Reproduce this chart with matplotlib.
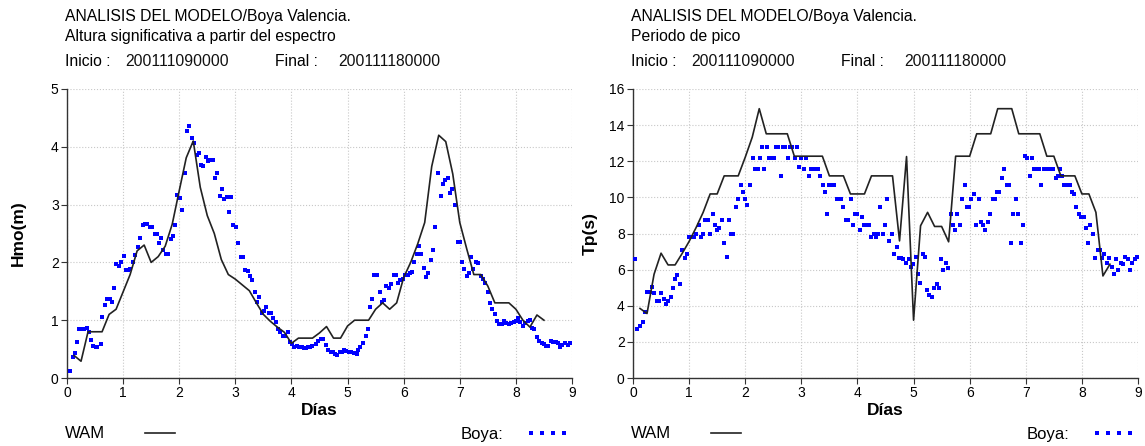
import numpy as np
import matplotlib
matplotlib.use('Agg')
import matplotlib.pyplot as plt
from matplotlib.lines import Line2D

plt.rcParams['font.family'] = ['Liberation Sans', 'DejaVu Sans']

W, H = 1145, 446

# ---- data ----
title_main = 'ANALISIS DEL MODELO/Boya Valencia.'
title_hs = 'Altura significativa a partir del espectro'
title_tp = 'Periodo de pico'
inicio = '200111090000'
final = '200111180000'

# WAM model, 3-hourly
wam_t = np.arange(1, 69) * 0.125
wam_hs = [0.39, 0.29, 0.80, 0.80, 0.80, 1.10, 1.19, 1.49, 1.79, 2.20, 2.30, 2.00,
          2.10, 2.28, 2.66, 3.24, 3.81, 4.10, 3.30, 2.81, 2.50, 2.05, 1.79, 1.71,
          1.61, 1.51, 1.30, 1.10, 0.98, 0.88, 0.79, 0.60, 0.69, 0.69, 0.69, 0.78,
          0.89, 0.69, 0.69, 0.90, 1.00, 1.00, 1.00, 1.19, 1.30, 1.19, 1.30, 1.74,
          2.00, 2.32, 2.69, 3.66, 4.20, 4.09, 3.53, 2.69, 2.23, 1.79, 1.79, 1.59,
          1.30, 1.30, 1.30, 1.19, 1.00, 0.88, 1.09, 1.00]
wam_tp = [3.85, 3.57, 5.74, 6.91, 6.26, 6.26, 6.89, 7.56, 8.33, 9.17, 10.19, 10.19,
          11.19, 11.19, 11.19, 12.22, 13.33, 14.91, 13.52, 13.52, 13.52, 13.52, 12.28, 12.28,
          12.28, 12.28, 12.28, 11.19, 11.19, 11.19, 10.19, 10.19, 10.19, 11.19, 11.19, 11.19,
          11.19, 7.59, 12.26, 3.20, 8.43, 9.17, 8.39, 8.39, 7.54, 12.28, 12.28, 12.28,
          13.52, 13.52, 13.52, 14.91, 14.91, 14.91, 13.52, 13.52, 13.52, 13.52, 12.28, 12.28,
          11.19, 11.19, 11.19, 10.19, 10.19, 9.17, 5.65, 6.30]

# buoy, roughly hourly
boya_hs_t = [0.05, 0.10, 0.14, 0.18, 0.21, 0.26, 0.30, 0.35, 0.39, 0.42, 0.46, 0.51,
             0.54, 0.60, 0.63, 0.68, 0.72, 0.76, 0.80, 0.84, 0.88, 0.92, 0.97, 1.01,
             1.05, 1.09, 1.13, 1.18, 1.22, 1.26, 1.30, 1.35, 1.39, 1.43, 1.48, 1.52,
             1.56, 1.60, 1.64, 1.68, 1.71, 1.76, 1.80, 1.85, 1.89, 1.92, 1.96, 2.01,
             2.05, 2.10, 2.13, 2.18, 2.22, 2.26, 2.31, 2.35, 2.39, 2.43, 2.47, 2.51,
             2.55, 2.60, 2.64, 2.68, 2.72, 2.76, 2.80, 2.85, 2.89, 2.93, 2.96, 3.01,
             3.05, 3.10, 3.14, 3.18, 3.22, 3.26, 3.30, 3.35, 3.39, 3.43, 3.47, 3.51,
             3.55, 3.60, 3.64, 3.68, 3.72, 3.76, 3.80, 3.85, 3.89, 3.93, 3.97, 4.01,
             4.05, 4.10, 4.14, 4.18, 4.22, 4.26, 4.30, 4.33, 4.37, 4.43, 4.47, 4.52,
             4.56, 4.61, 4.65, 4.70, 4.74, 4.78, 4.82, 4.86, 4.90, 4.94, 4.98, 5.02,
             5.07, 5.11, 5.16, 5.19, 5.23, 5.27, 5.32, 5.36, 5.40, 5.44, 5.48, 5.53,
             5.57, 5.61, 5.65, 5.69, 5.73, 5.78, 5.82, 5.86, 5.90, 5.94, 5.99, 6.03,
             6.07, 6.11, 6.15, 6.19, 6.24, 6.27, 6.31, 6.36, 6.40, 6.44, 6.48, 6.52,
             6.56, 6.61, 6.66, 6.70, 6.74, 6.79, 6.83, 6.87, 6.91, 6.96, 7.00, 7.04,
             7.08, 7.12, 7.16, 7.20, 7.24, 7.29, 7.33, 7.37, 7.41, 7.45, 7.50, 7.54,
             7.58, 7.62, 7.66, 7.70, 7.75, 7.79, 7.83, 7.87, 7.91, 7.96, 8.00, 8.04,
             8.08, 8.12, 8.16, 8.21, 8.25, 8.29, 8.33, 8.37, 8.41, 8.46, 8.50, 8.54,
             8.58, 8.62, 8.67, 8.71, 8.75, 8.79, 8.83, 8.87, 8.92, 8.96]
boya_hs = [0.12, 0.36, 0.43, 0.62, 0.84, 0.84, 0.84, 0.87, 0.80, 0.65, 0.55, 0.54,
           0.54, 0.58, 1.05, 1.27, 1.36, 1.37, 1.31, 1.56, 1.98, 1.94, 2.01, 2.11,
           1.87, 1.86, 1.89, 2.00, 2.12, 2.27, 2.42, 2.65, 2.67, 2.66, 2.62, 2.62,
           2.49, 2.50, 2.34, 2.43, 2.21, 2.14, 2.14, 2.41, 2.45, 2.65, 3.17, 3.11,
           2.91, 3.55, 4.27, 4.36, 4.16, 4.07, 3.86, 3.89, 3.68, 3.66, 3.83, 3.75,
           3.77, 3.78, 3.46, 3.55, 3.15, 3.27, 3.10, 3.13, 2.88, 3.13, 2.65, 2.62,
           2.33, 2.10, 2.10, 1.87, 1.85, 1.77, 1.69, 1.49, 1.32, 1.40, 1.13, 1.16,
           1.22, 1.13, 1.12, 1.03, 0.97, 0.85, 0.80, 0.72, 0.72, 0.79, 0.62, 0.58,
           0.54, 0.56, 0.54, 0.54, 0.52, 0.52, 0.54, 0.54, 0.56, 0.59, 0.64, 0.67,
           0.67, 0.57, 0.49, 0.45, 0.45, 0.42, 0.39, 0.45, 0.45, 0.49, 0.47, 0.45,
           0.45, 0.43, 0.42, 0.49, 0.54, 0.60, 0.72, 0.85, 1.23, 1.36, 1.78, 1.79,
           1.49, 1.32, 1.35, 1.60, 1.55, 1.62, 1.78, 1.78, 1.65, 1.70, 1.71, 1.79,
           1.79, 1.82, 1.84, 2.00, 2.15, 2.29, 2.15, 1.90, 1.75, 1.82, 2.04, 2.22,
           2.62, 3.54, 3.15, 3.35, 3.43, 3.46, 3.20, 3.27, 3.00, 2.36, 2.36, 2.00,
           1.88, 1.77, 1.81, 2.10, 1.89, 2.00, 1.99, 1.77, 1.71, 1.64, 1.49, 1.29,
           1.19, 1.10, 0.98, 0.94, 0.93, 0.98, 0.96, 0.94, 0.96, 0.97, 0.98, 1.03,
           0.97, 0.90, 0.96, 0.98, 1.01, 0.86, 0.84, 0.71, 0.64, 0.61, 0.58, 0.56,
           0.56, 0.64, 0.63, 0.63, 0.60, 0.54, 0.57, 0.60, 0.57, 0.60]

boya_tp_t = [0.04, 0.08, 0.13, 0.17, 0.21, 0.25, 0.30, 0.34, 0.38, 0.43, 0.46, 0.50,
             0.55, 0.59, 0.63, 0.67, 0.71, 0.75, 0.79, 0.84, 0.88, 0.92, 0.96, 1.00,
             1.04, 1.08, 1.13, 1.17, 1.21, 1.25, 1.29, 1.33, 1.37, 1.42, 1.46, 1.50,
             1.54, 1.58, 1.63, 1.67, 1.71, 1.75, 1.79, 1.84, 1.88, 1.92, 1.96, 2.00,
             2.04, 2.09, 2.13, 2.17, 2.22, 2.26, 2.30, 2.34, 2.38, 2.42, 2.47, 2.51,
             2.55, 2.59, 2.63, 2.67, 2.71, 2.76, 2.80, 2.84, 2.88, 2.92, 2.96, 3.00,
             3.05, 3.09, 3.13, 3.17, 3.21, 3.25, 3.29, 3.34, 3.38, 3.42, 3.46, 3.50,
             3.54, 3.59, 3.63, 3.67, 3.71, 3.75, 3.79, 3.83, 3.88, 3.92, 3.96, 4.00,
             4.04, 4.08, 4.12, 4.17, 4.21, 4.25, 4.29, 4.33, 4.37, 4.41, 4.45, 4.49,
             4.53, 4.57, 4.61, 4.66, 4.70, 4.74, 4.78, 4.82, 4.86, 4.91, 4.95, 4.99,
             5.04, 5.08, 5.12, 5.16, 5.20, 5.24, 5.28, 5.33, 5.37, 5.41, 5.45, 5.49,
             5.53, 5.58, 5.62, 5.66, 5.70, 5.74, 5.78, 5.82, 5.87, 5.91, 5.95, 5.99,
             6.03, 6.07, 6.12, 6.16, 6.20, 6.24, 6.28, 6.32, 6.36, 6.41, 6.45, 6.49,
             6.53, 6.57, 6.61, 6.66, 6.70, 6.74, 6.78, 6.82, 6.86, 6.91, 6.95, 6.99,
             7.03, 7.07, 7.11, 7.15, 7.20, 7.24, 7.28, 7.32, 7.36, 7.40, 7.45, 7.49,
             7.53, 7.57, 7.61, 7.65, 7.69, 7.74, 7.78, 7.82, 7.86, 7.90, 7.94, 7.99,
             8.03, 8.07, 8.11, 8.15, 8.19, 8.23, 8.28, 8.32, 8.36, 8.40, 8.44, 8.48,
             8.53, 8.57, 8.61, 8.65, 8.69, 8.73, 8.77, 8.82, 8.86, 8.90, 8.94, 8.98]
boya_tp = [6.57, 2.74, 2.87, 3.11, 3.65, 4.76, 4.76, 5.06, 4.69, 4.26, 4.26, 4.69,
           4.35, 4.07, 4.26, 4.48, 4.96, 5.46, 5.69, 5.19, 7.07, 6.67, 6.89, 7.78,
           7.78, 7.78, 7.96, 8.48, 7.78, 7.96, 8.76, 8.76, 7.96, 9.07, 8.48, 8.19,
           8.30, 8.76, 7.46, 6.70, 8.76, 7.96, 7.96, 9.48, 9.91, 10.69, 10.28, 9.91,
           9.57, 10.69, 12.19, 11.57, 11.57, 12.19, 12.78, 11.57, 12.78, 12.19, 12.19, 12.19,
           12.78, 12.78, 11.19, 12.78, 12.78, 12.19, 12.78, 12.78, 12.19, 12.78, 11.67, 12.19,
           11.57, 12.19, 11.19, 11.57, 11.57, 11.57, 11.57, 11.19, 10.69, 10.28, 9.07, 10.69,
           10.69, 10.69, 9.91, 9.91, 9.91, 9.48, 8.76, 8.76, 9.91, 8.48, 9.07, 9.07,
           8.19, 8.89, 8.48, 8.48, 8.48, 7.78, 7.96, 7.78, 7.96, 9.48, 7.96, 8.48,
           9.91, 7.59, 7.96, 6.89, 7.28, 6.67, 6.67, 6.57, 6.39, 6.57, 6.17, 6.30,
           6.70, 5.78, 5.28, 6.89, 6.70, 4.87, 4.57, 4.48, 5.00, 5.19, 5.00, 6.57,
           5.96, 6.39, 6.07, 9.07, 8.48, 8.19, 9.07, 8.48, 9.91, 10.69, 9.48, 9.48,
           9.91, 10.19, 8.48, 9.91, 8.61, 8.48, 8.19, 8.61, 9.07, 9.91, 9.91, 10.28,
           10.28, 11.07, 11.57, 10.69, 10.69, 7.46, 9.07, 9.91, 9.07, 7.46, 8.48, 12.31,
           12.19, 11.19, 12.19, 11.57, 11.57, 11.57, 10.69, 11.57, 11.57, 11.57, 11.57, 11.57,
           11.07, 11.19, 11.57, 11.19, 10.69, 10.69, 10.69, 10.28, 10.19, 9.48, 9.07, 8.89,
           8.89, 8.30, 7.46, 8.48, 7.96, 6.67, 7.07, 7.07, 6.67, 6.89, 6.39, 6.67,
           6.17, 5.78, 6.57, 5.96, 6.39, 6.30, 6.70, 6.57, 5.96, 6.39, 6.57, 6.70]


def fx(px):
    return px / W


def fy(py):
    return 1 - py / H


def panel(fig, x0, subtitle, ylabel, ylab_x, ymax, ystep, wam, boya_t, boya):
    ax = fig.add_axes([fx(x0), fy(378), fx(505), 289 / H])
    ax.plot(boya_t, boya, ls='none', marker='s', ms=3.3, mew=0, color='#0000ff',
            zorder=3)
    ax.plot(wam_t, wam, color='#222222', lw=1.2, zorder=4)
    ax.set_xlim(0, 9)
    ax.set_ylim(0, ymax)
    ax.set_xticks(range(10))
    ax.set_yticks(np.arange(0, ymax + 0.1, ystep))
    ax.grid(True, color='#c8c8c8', ls=':', lw=0.8)
    for s in ('top', 'right'):
        ax.spines[s].set_visible(False)
    for s in ('left', 'bottom'):
        ax.spines[s].set_color('#333333')
        ax.spines[s].set_linewidth(1.0)
    ax.tick_params(labelsize=10, length=4, color='#333333', pad=2)
    ax.set_xlabel('Días', fontsize=12.5, fontweight='bold', labelpad=2)
    ax.set_ylabel(ylabel, fontsize=12.5, fontweight='bold')
    # right edge of the rotated label, in pixels
    ax.yaxis.set_label_coords((ylab_x - x0) / 505, 0.5)

    # header lines
    fs = 11.3
    fig.text(fx(x0 - 2), fy(17), title_main, fontsize=fs, va='center')
    fig.text(fx(x0 - 2), fy(37), subtitle, fontsize=fs, va='center')
    fig.text(fx(x0 - 2), fy(61), 'Inicio :', fontsize=fs, va='center')
    fig.text(fx(x0 + 58), fy(61), inicio, fontsize=fs, va='center', color='#111111')
    fig.text(fx(x0 + 208), fy(61), 'Final :', fontsize=fs, va='center')
    fig.text(fx(x0 + 271), fy(61), final, fontsize=fs, va='center', color='#111111')

    # legends below the axes
    h_wam = Line2D([], [], color='#222222', lw=1.2)
    h_boya = Line2D([], [], ls='none', marker='s', ms=3.3, mew=0, color='#0000ff')
    fig.legend([h_wam], ['WAM'], loc='center left',
               bbox_to_anchor=(fx(x0 - 2 - 8), fy(434)), frameon=False,
               markerfirst=False, handlelength=1.75, handletextpad=2.4,
               fontsize=12, borderaxespad=0, borderpad=0.5)
    fig.legend([h_boya], ['Boya:'], loc='center left', numpoints=4,
               bbox_to_anchor=(fx(x0 + 393 - 8), fy(434)), frameon=False,
               markerfirst=False, handlelength=2.6, handletextpad=1.35,
               fontsize=12, borderaxespad=0, borderpad=0.5)
    return ax


fig = plt.figure(figsize=(W / 100, H / 100), dpi=100)
panel(fig, 67, title_hs, 'Hmo(m)', 26, 5, 1, wam_hs, boya_hs_t, boya_hs)
panel(fig, 633, title_tp, 'Tp(s)', 598, 16, 2, wam_tp, boya_tp_t, boya_tp)
fig.savefig('out.png', dpi=100)
